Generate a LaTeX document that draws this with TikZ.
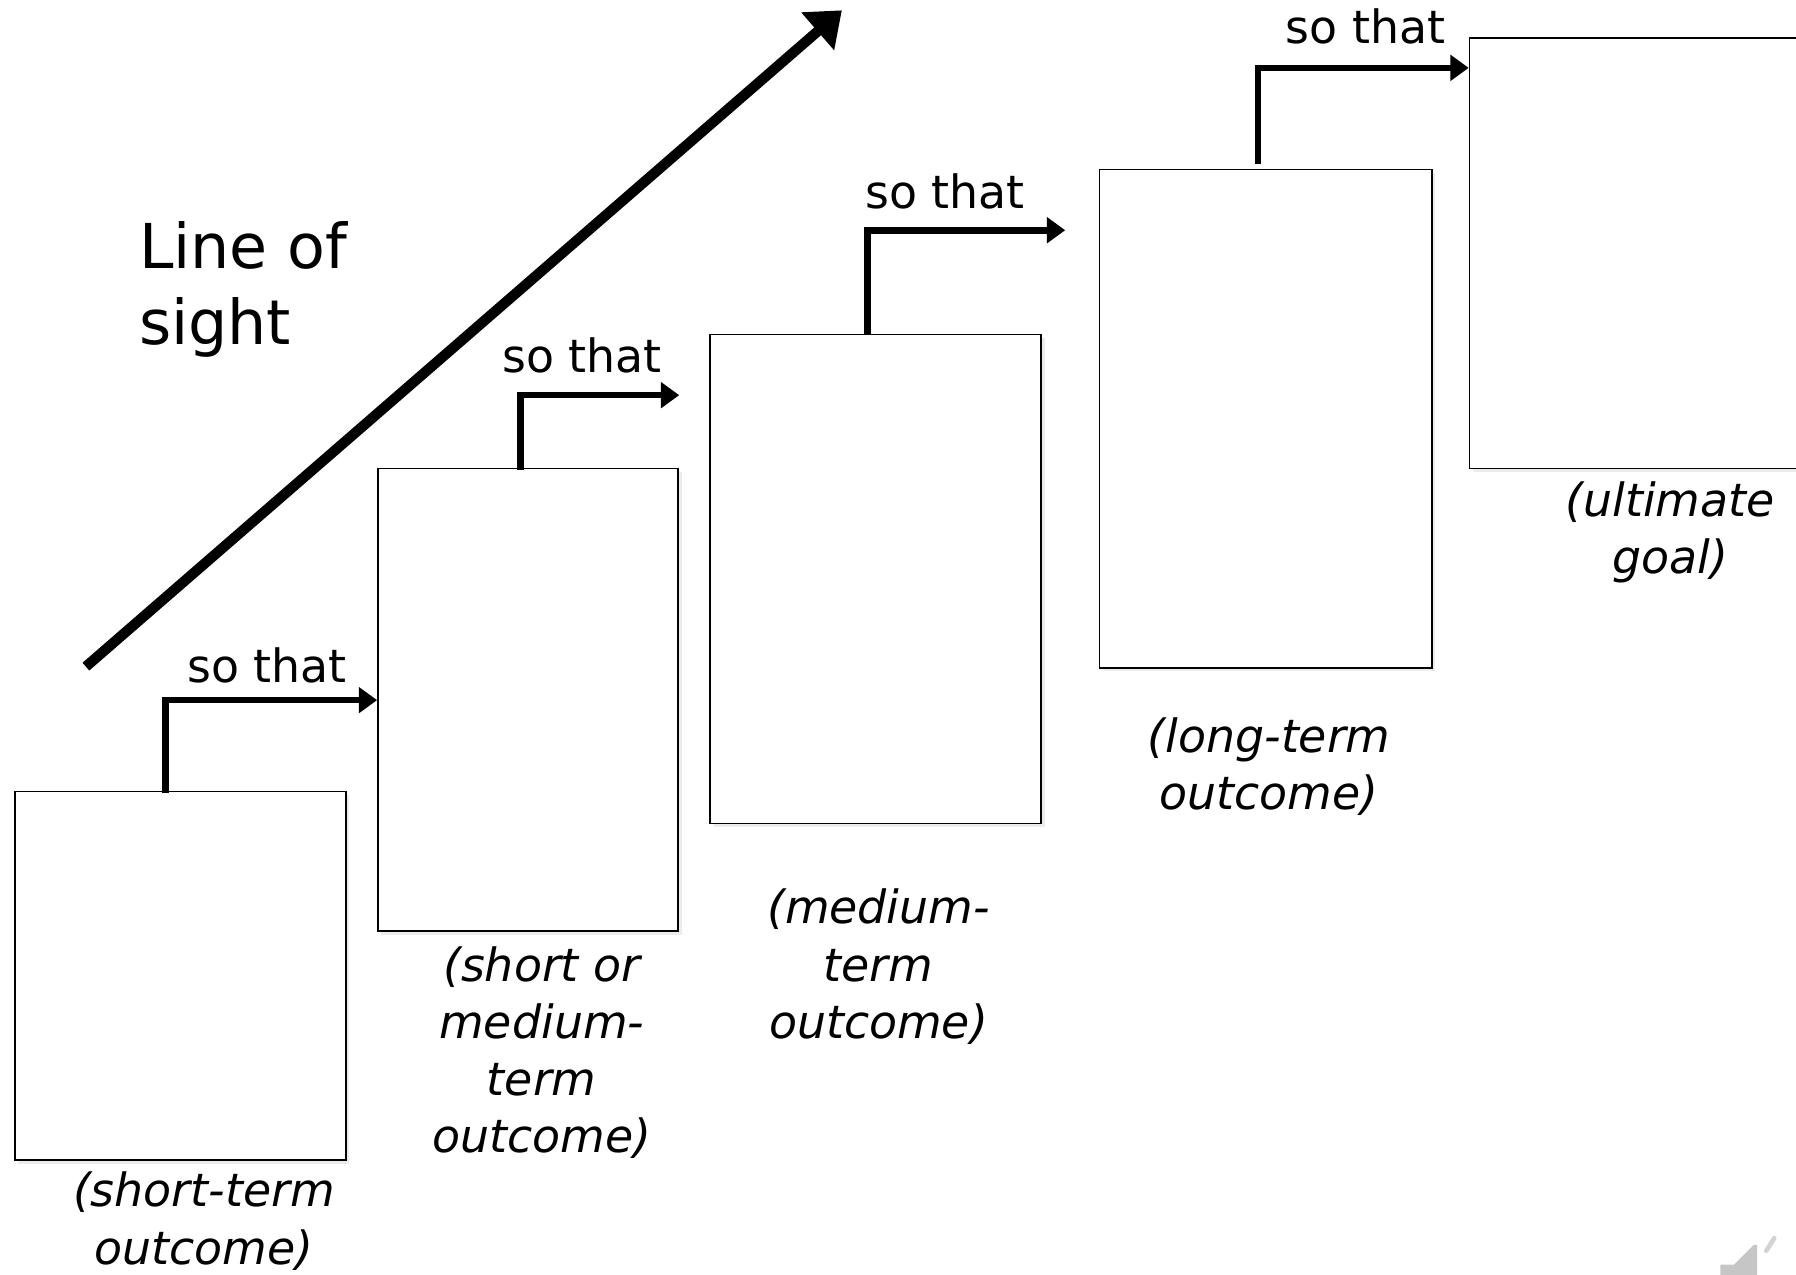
\documentclass[tikz,border=0pt]{standalone}
\usepackage{fontspec}
\setmainfont{DejaVu Sans}
\usetikzlibrary{arrows.meta,calc,fit,shadows}
\begin{document}
\begin{tikzpicture}[x=0.5pt,y=-0.5pt,
  stagebox/.style={draw, line width=0.75pt, fill=white, inner sep=0pt,
    drop shadow={shadow xshift=1.5pt, shadow yshift=-1.5pt, opacity=0.15}},
  connector/.style={line width=2.9pt, -{Triangle[length=8pt,width=11pt]}},
  sightarrow/.style={line width=4.5pt, -{Triangle[length=14pt,width=21pt]}},
  sothat/.style={font=\fontsize{20}{24}\selectfont, inner sep=0pt, anchor=base west},
  stagelabel/.style={font=\fontsize{20}{25}\selectfont\itshape, align=center, inner sep=0pt},
  sighttext/.style={font=\fontsize{27}{33}\selectfont, align=left, inner sep=0pt, anchor=north west}]
\useasboundingbox (0,0) rectangle (1568,1113);
\clip (0,0) rectangle (1568,1113);

% boxes
\coordinate (b1a) at (13,691);   \coordinate (b1b) at (302,1013);
\coordinate (b2a) at (330,409);  \coordinate (b2b) at (592,813);
\coordinate (b3a) at (620,292);  \coordinate (b3b) at (909,719);
\coordinate (b4a) at (960,148);  \coordinate (b4b) at (1250,583);
\coordinate (b5a) at (1283,33);  \coordinate (b5b) at (1600,409);
\node[stagebox, fit=(b1a)(b1b)] (B1) {};
\node[stagebox, fit=(b2a)(b2b)] (B2) {};
\node[stagebox, fit=(b3a)(b3b)] (B3) {};
\node[stagebox, fit=(b4a)(b4b)] (B4) {};
\node[stagebox, fit=(b5a)(b5b)] (B5) {};

% line of sight
\coordinate (los1) at (75,582);
\coordinate (los2) at (735,9);
\draw[sightarrow] (los1) -- (los2);
\node[sighttext] (LOS) at (121,193) {Line of\\sight};

% so that connectors
\coordinate (e2) at (593,345);
\coordinate (e3) at (930,201);
\draw[connector] ($(B1.north west)+(132,2)$) |- ($(B2.north west)+(0,203)$);
\draw[connector] ($(B2.north west)+(125,2)$) |- (e2);
\draw[connector] ($(B3.north west)+(138,0)$) |- (e3);
\draw[connector] ($(B4.north west)+(139,-4)$) |- ($(B5.north west)+(0,27)$);

\node[sothat] (S1) at (163,596) {so that};
\node[sothat] (S2) at (438,325) {so that};
\node[sothat] (S3) at (755,182) {so that};
\node[sothat] (S4) at (1122,38) {so that};

% labels
\node[stagelabel] (L1) at (178,1066) {(short-term\\outcome)};
\node[stagelabel] (L2) at (473,919) {(short or\\medium-\\term\\outcome)};
\node[stagelabel] (L3) at (767,844) {(medium-\\term\\outcome)};
\node[stagelabel] (L4) at (1108,669) {(long-term\\outcome)};
\node[stagelabel] (L5) at (1458,465) {(ultimate\\goal)};

% partial speaker icon in corner
\fill[gray!45] (1502,1113) -- (1502,1104) -- (1514,1104) -- (1531,1087) -- (1534,1087) -- (1534,1113) -- cycle;
\draw[gray!35, line width=2pt, line cap=round] (1542,1092) -- (1549,1081);
\end{tikzpicture}
\end{document}
